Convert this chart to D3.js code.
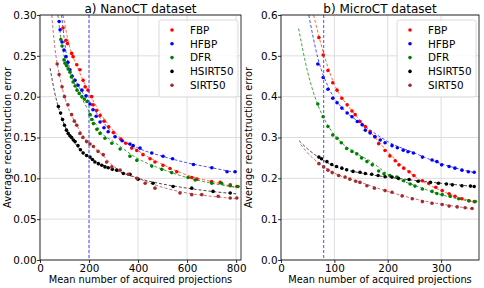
<!DOCTYPE html>
<html><head><meta charset="utf-8">
<script src="https://cdn.jsdelivr.net/npm/d3@7"></script>
<style>body{margin:0;background:#fff}svg{display:block}text{font-family:"DejaVu Sans",sans-serif}</style>
</head><body><svg id="c" width="484" height="288"></svg>
<script>
// ---- Panel a) NanoCT ----
const seriesNames = ["FBP","HFBP","DFR","HSIRT50","SIRT50"];
const seriesColors = ["#ff0000","#0000ff","#008000","#000000","#a52a2a"];
const fitColors = ["#ff5a1e","#3a3aff","#2a9a2a","#333333","#c0606a"];

const nanoFBP_x = [94,106,112,129,135,150,163,176,184,196,211,217,230,245,262,280,300,330,350,374,395,420,449,469,502,530,558,619,640,700,735,776,803];
const nanoFBP_y = [0.284,0.269,0.265,0.253,0.249,0.239,0.233,0.220,0.212,0.208,0.200,0.190,0.183,0.177,0.170,0.163,0.156,0.148,0.143,0.137,0.134,0.129,0.124,0.120,0.116,0.112,0.108,0.101,0.099,0.096,0.095,0.092,0.090];
const nanoHFBP_x = [78,82,90,98,106,114,122,131,143,155,171,188,204,216,229,245,261,278,306,335,367,380,408,456,502,541,626,701,763,796];
const nanoHFBP_y = [0.292,0.282,0.267,0.257,0.249,0.242,0.233,0.225,0.220,0.214,0.208,0.201,0.191,0.184,0.176,0.169,0.162,0.157,0.151,0.146,0.142,0.140,0.137,0.131,0.127,0.124,0.117,0.113,0.108,0.108];
const nanoDFR_x = [85,90,98,102,108,115,122,128,135,143,151,160,171,181,192,204,211,218,232,245,265,293,327,367,395,456,497,537,604,633,701,741,776,808];
const nanoDFR_y = [0.270,0.262,0.245,0.241,0.238,0.234,0.230,0.224,0.218,0.213,0.208,0.204,0.200,0.197,0.194,0.178,0.172,0.167,0.160,0.155,0.149,0.143,0.136,0.127,0.122,0.115,0.111,0.107,0.101,0.098,0.094,0.094,0.091,0.090];
const nanoHSIRT_x = [75,84,92,100,108,115,122,129,136,143,155,165,176,190,204,214,224,238,252,265,278,295,313,340,367,400,461,543,619,706,776];
const nanoHSIRT_y = [0.188,0.180,0.172,0.165,0.159,0.155,0.152,0.150,0.147,0.145,0.140,0.135,0.131,0.128,0.126,0.123,0.120,0.118,0.116,0.114,0.113,0.111,0.110,0.106,0.105,0.099,0.094,0.090,0.088,0.084,0.082];
const nanoSIRT_x = [70,78,90,100,114,129,140,150,163,175,190,204,218,237,258,272,293,327,360,395,429,469,571,619,660,727,776,803];
const nanoSIRT_y = [0.240,0.227,0.212,0.200,0.190,0.178,0.170,0.165,0.155,0.150,0.145,0.142,0.139,0.133,0.129,0.120,0.114,0.110,0.105,0.100,0.094,0.088,0.082,0.080,0.080,0.078,0.076,0.076];

// fitted (dashed) curves
const nanoFitFBP_x = [94,120,150,200,250,300,400,500,600,700,800];
const nanoFitFBP_y = [0.300,0.262,0.238,0.205,0.178,0.158,0.134,0.117,0.104,0.096,0.089];
const nanoFitHFBP_x = [88,110,150,200,250,300,400,500,600,700,800];
const nanoFitHFBP_y = [0.300,0.248,0.217,0.194,0.172,0.154,0.137,0.127,0.119,0.113,0.107];
const nanoFitDFR_x = [73,90,120,160,200,250,300,400,500,600,700,800];
const nanoFitDFR_y = [0.300,0.262,0.232,0.204,0.182,0.156,0.145,0.124,0.111,0.101,0.094,0.089];
const nanoFitHSIRT_x = [41,60,80,100,150,200,250,300,400,500,600,700,800];
const nanoFitHSIRT_y = [0.235,0.205,0.182,0.165,0.140,0.126,0.117,0.111,0.100,0.093,0.088,0.084,0.081];
const nanoFitSIRT_x = [48,60,80,100,150,200,250,300,400,500,600,700,800];
const nanoFitSIRT_y = [0.300,0.262,0.225,0.200,0.165,0.143,0.130,0.115,0.100,0.089,0.082,0.078,0.075];

const nanoXTicks = [0,200,400,600,800];
const nanoYTicks = [0,0.05,0.10,0.15,0.20,0.25,0.30];
const nanoVLine = 200;

// ---- Panel b) MicroCT ----
const microFBP_x = [71,79,88,97,105,114,124,133,139,148,158,167,176,183,195,204,214,221,230,240,249,265,277,290,302,315,326,339,352,362];
const microFBP_y = [0.545,0.502,0.464,0.434,0.416,0.396,0.380,0.365,0.356,0.339,0.327,0.314,0.302,0.285,0.268,0.255,0.243,0.233,0.225,0.216,0.207,0.194,0.188,0.178,0.170,0.162,0.156,0.150,0.145,0.143];
const microHFBP_x = [69,79,88,97,105,114,124,133,143,152,158,167,176,186,195,208,218,229,238,248,265,283,292,301,315,326,339,351,362];
const microHFBP_y = [0.480,0.447,0.418,0.396,0.385,0.372,0.360,0.351,0.339,0.331,0.318,0.311,0.302,0.294,0.287,0.280,0.275,0.269,0.265,0.262,0.252,0.245,0.241,0.233,0.229,0.225,0.220,0.216,0.215];
const microDFR_x = [69,79,88,97,105,113,123,133,142,151,161,171,183,193,204,217,230,242,251,265,283,292,302,317,333,352,364];
const microDFR_y = [0.382,0.351,0.327,0.306,0.298,0.287,0.273,0.266,0.260,0.250,0.241,0.233,0.218,0.211,0.207,0.203,0.194,0.186,0.181,0.174,0.168,0.163,0.160,0.156,0.150,0.145,0.143];
const microHSIRT_x = [71,76,86,95,104,114,123,135,148,158,170,182,195,208,220,240,257,280,295,310,321,339,355,362];
const microHSIRT_y = [0.252,0.248,0.241,0.234,0.229,0.225,0.221,0.217,0.215,0.212,0.210,0.207,0.204,0.203,0.200,0.197,0.193,0.190,0.188,0.186,0.184,0.182,0.181,0.180];
const microSIRT_x = [71,80,88,96,108,120,129,140,148,161,175,195,208,227,246,265,283,302,315,330,345,358];
const microSIRT_y = [0.236,0.228,0.220,0.214,0.207,0.203,0.198,0.193,0.190,0.182,0.176,0.170,0.166,0.157,0.150,0.143,0.139,0.136,0.132,0.130,0.128,0.126];

const microFitFBP_x = [61,80,100,130,160,200,250,300,362];
const microFitFBP_y = [0.600,0.505,0.430,0.370,0.325,0.265,0.205,0.170,0.142];
const microFitHFBP_x = [52,70,90,120,150,200,250,300,362];
const microFitHFBP_y = [0.600,0.490,0.420,0.365,0.335,0.290,0.262,0.236,0.214];
const microFitDFR_x = [33,50,69,90,110,140,170,200,250,300,362];
const microFitDFR_y = [0.567,0.460,0.380,0.325,0.292,0.262,0.240,0.210,0.183,0.160,0.142];
const microFitHSIRT_x = [34,50,70,100,150,200,250,300,362];
const microFitHSIRT_y = [0.292,0.272,0.252,0.230,0.213,0.203,0.195,0.188,0.180];
const microFitSIRT_x = [37,50,70,100,150,200,250,300,362];
const microFitSIRT_y = [0.283,0.262,0.238,0.213,0.190,0.168,0.150,0.137,0.125];

const microXTicks = [0,100,200,300];
const microYTicks = [0,0.1,0.2,0.3,0.4,0.5,0.6];
const microVLine = 80;

const titles = ["a) NanoCT dataset","b) MicroCT dataset"];
const xLabel = "Mean number of acquired projections";
const yLabel = "Average reconstruction error";

const zip = (xs,ys)=>xs.map((x,i)=>[x,ys[i]]);

const panels = [
  {title:titles[0], left:40, right:241, xMax:820, yMax:0.30, xTicks:nanoXTicks, yTicks:nanoYTicks, yFmt:".2f", vline:nanoVLine,
   pts:[zip(nanoFBP_x,nanoFBP_y),zip(nanoHFBP_x,nanoHFBP_y),zip(nanoDFR_x,nanoDFR_y),zip(nanoHSIRT_x,nanoHSIRT_y),zip(nanoSIRT_x,nanoSIRT_y)],
   fits:[zip(nanoFitFBP_x,nanoFitFBP_y),zip(nanoFitHFBP_x,nanoFitHFBP_y),zip(nanoFitDFR_x,nanoFitDFR_y),zip(nanoFitHSIRT_x,nanoFitHSIRT_y),zip(nanoFitSIRT_x,nanoFitSIRT_y)]},
  {title:titles[1], left:281, right:479, xMax:371, yMax:0.6, xTicks:microXTicks, yTicks:microYTicks, yFmt:".1f", vline:microVLine,
   pts:[zip(microFBP_x,microFBP_y),zip(microHFBP_x,microHFBP_y),zip(microDFR_x,microDFR_y),zip(microHSIRT_x,microHSIRT_y),zip(microSIRT_x,microSIRT_y)],
   fits:[zip(microFitFBP_x,microFitFBP_y),zip(microFitHFBP_x,microFitHFBP_y),zip(microFitDFR_x,microFitDFR_y),zip(microFitHSIRT_x,microFitHSIRT_y),zip(microFitSIRT_x,microFitSIRT_y)]}
];

const svg = d3.select("#c");
const plotTop = 15, plotBottom = 260;

panels.forEach((p,pi)=>{
  const x = d3.scaleLinear().domain([0,p.xMax]).range([p.left,p.right]);
  const y = d3.scaleLinear().domain([0,p.yMax]).range([plotBottom,plotTop]);
  const g = svg.append("g");
  const clipId = "clip"+pi;
  svg.append("clipPath").attr("id",clipId).append("rect")
    .attr("x",p.left).attr("y",plotTop).attr("width",p.right-p.left).attr("height",plotBottom-plotTop);

  // grid
  g.append("g").selectAll("line").data(p.xTicks).join("line")
    .attr("x1",d=>x(d)).attr("x2",d=>x(d)).attr("y1",plotTop).attr("y2",plotBottom)
    .attr("stroke","#dddddd").attr("stroke-width",1);
  g.append("g").selectAll("line").data(p.yTicks).join("line")
    .attr("y1",d=>y(d)).attr("y2",d=>y(d)).attr("x1",p.left).attr("x2",p.right)
    .attr("stroke","#dddddd").attr("stroke-width",1);

  const plot = g.append("g").attr("clip-path",`url(#${clipId})`);
  const line = d3.line().x(d=>x(d[0])).y(d=>y(d[1])).curve(d3.curveMonotoneX);
  p.fits.forEach((f,i)=>{
    plot.append("path").attr("d",line(f)).attr("fill","none")
      .attr("stroke",fitColors[i]).attr("stroke-width",0.9).attr("stroke-dasharray","3,2");
  });
  p.pts.forEach((s,i)=>{
    plot.append("g").selectAll("circle").data(s).join("circle")
      .attr("cx",d=>x(d[0])).attr("cy",d=>y(d[1])).attr("r",1.8).attr("fill",seriesColors[i]);
  });
  plot.append("line").attr("x1",x(p.vline)).attr("x2",x(p.vline)).attr("y1",plotTop).attr("y2",plotBottom)
    .attr("stroke","#3a3aff").attr("stroke-width",0.9).attr("stroke-dasharray","3,2");

  const xa = g.append("g").attr("transform",`translate(0,${plotBottom})`)
    .call(d3.axisBottom(x).tickValues(p.xTicks).tickSize(3).tickSizeOuter(0).tickPadding(2));
  const ya = g.append("g").attr("transform",`translate(${p.left},0)`)
    .call(d3.axisLeft(y).tickValues(p.yTicks).tickFormat(d3.format(p.yFmt)).tickSize(3).tickSizeOuter(0).tickPadding(0.5));
  [xa,ya].forEach(a=>{
    a.selectAll("text").attr("font-size",10.4).attr("font-family","DejaVu Sans").attr("fill","#000");
    a.selectAll("line").attr("stroke","#000").attr("stroke-width",0.8);
    a.select(".domain").remove();
  });
  g.append("rect").attr("x",p.left).attr("y",plotTop).attr("width",p.right-p.left).attr("height",plotBottom-plotTop)
    .attr("fill","none").attr("stroke","#000").attr("stroke-width",0.8);

  const cx = (p.left+p.right)/2;
  g.append("text").attr("x",cx).attr("y",13).attr("text-anchor","middle").attr("font-size",12).text(p.title);
  g.append("text").attr("x",cx).attr("y",282.5).attr("text-anchor","middle").attr("font-size",9.8).text(xLabel);
  g.append("text").attr("transform",`translate(${p.left-29.5},${(plotTop+plotBottom)/2}) rotate(-90)`)
    .attr("text-anchor","middle").attr("font-size",9.8).text(yLabel);

  const lx = p.right-82, ly = 20;
  g.append("rect").attr("x",lx).attr("y",ly).attr("width",79).attr("height",77).attr("rx",2.5)
    .attr("fill","#fff").attr("fill-opacity",0.8).attr("stroke","#d0d0d0").attr("stroke-width",0.8);
  seriesNames.forEach((n,i)=>{
    const yy = ly+10+i*13.8;
    g.append("circle").attr("cx",lx+13).attr("cy",yy).attr("r",1.8).attr("fill",seriesColors[i]);
    g.append("text").attr("x",lx+31).attr("y",yy+3.8).attr("font-size",10.4).text(n);
  });
});
</script></body></html>
